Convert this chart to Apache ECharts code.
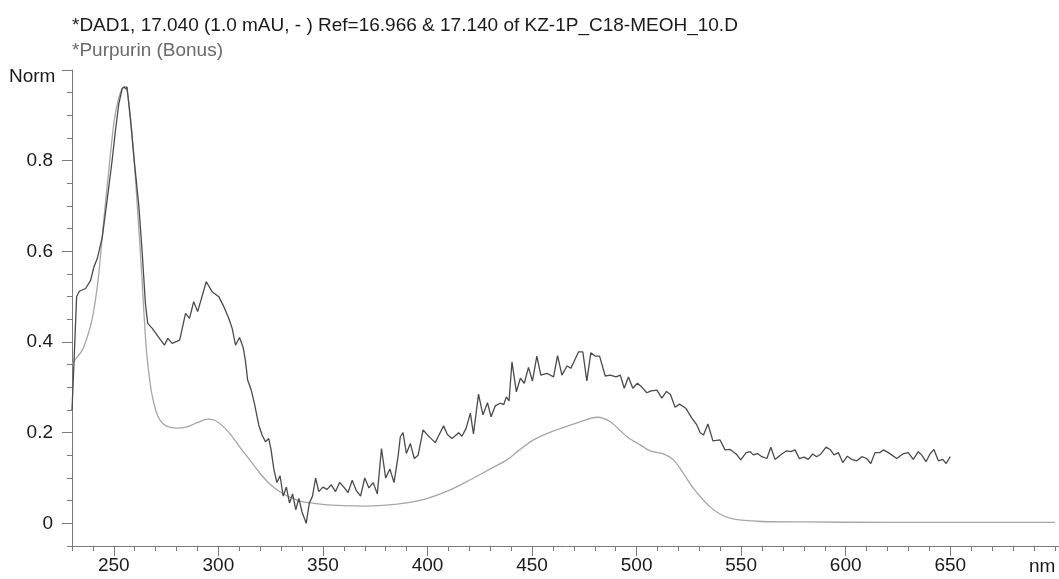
<!DOCTYPE html>
<html>
<head>
<meta charset="utf-8">
<script src="https://cdn.jsdelivr.net/npm/echarts@6/dist/echarts.min.js"></script>
<style>
html,body{margin:0;padding:0;background:#fff;}
#chart{width:1059px;height:579px;}
</style>
</head>
<body>
<div id="chart"></div>
<script>
// Sample spectrum (*DAD1, noisy)
const sampleNm = [230,231,232.2,233.5,236.5,238.9,240.5,242.1,244.5,246.8,249.2,250.8,252.4,254,255,255.8,256.3,258,259.9,262,263.6,265.1,266.2,268.4,270.7,274.2,275.8,277.9,281.5,284.3,286.2,288.2,290.1,294.2,297,300.2,302.6,305,306.6,308.2,310.1,311.8,312.9,314,315.7,317.2,319.3,320.9,322.5,324.1,325.2,326.5,328,329.5,331,332.5,334,335.5,337,338.5,340,342,343.5,345,346.5,348,350,352,354,356,358,360,362,364,366,368,370,372,374,376,378,380,382,384,386,387,388.3,389.9,391.8,393.7,395.5,397.9,400,401.5,403.7,405.5,407.7,409.5,411.7,413.3,414.9,416.5,418.5,420.5,422,424.4,426.5,428.7,430.4,432.4,434.8,436.5,437.7,439,440.4,442.5,444.4,446.3,448.3,450.2,452.3,454.2,457.1,460.3,462.2,464.3,466.7,468.6,472.2,474.3,476.2,478.1,480.2,482.3,485,487.4,490.2,492.2,494.1,496.1,498.2,500.4,502.6,504.9,507,509.7,512.1,514.3,516.2,518.4,520.5,523.5,526.4,528.8,530.4,532,534.1,536.5,539.9,542.3,544.7,547.6,549.8,552.4,554.3,555.9,557.8,559.9,562.3,564.2,566.2,569.4,571.8,573.7,575.8,577.8,580.1,582.1,584.2,586.1,588.1,590.6,592.5,594.4,596.5,598.6,600.8,602.9,605.3,607.7,610,612,614,616.4,618,620.4,624.4,627.3,629.9,632.3,634.7,636.3,638.4,640.3,642.2,644.3,646.4,648,650];
const sampleVal = [0.25,0.36,0.50,0.512,0.518,0.536,0.566,0.584,0.632,0.713,0.801,0.867,0.926,0.959,0.963,0.958,0.963,0.889,0.794,0.698,0.595,0.485,0.441,0.430,0.415,0.393,0.408,0.397,0.404,0.463,0.452,0.489,0.467,0.533,0.511,0.500,0.478,0.452,0.430,0.393,0.410,0.389,0.360,0.316,0.294,0.265,0.217,0.195,0.180,0.187,0.162,0.12,0.09,0.105,0.06,0.08,0.045,0.065,0.03,0.055,0.025,0.0,0.045,0.06,0.1,0.07,0.08,0.075,0.085,0.07,0.09,0.08,0.068,0.095,0.072,0.06,0.1,0.078,0.09,0.065,0.165,0.1,0.12,0.09,0.15,0.191,0.200,0.154,0.176,0.143,0.15,0.206,0.195,0.188,0.178,0.195,0.215,0.196,0.187,0.193,0.200,0.192,0.21,0.243,0.197,0.285,0.239,0.266,0.235,0.259,0.265,0.262,0.279,0.27,0.356,0.290,0.320,0.309,0.344,0.314,0.369,0.327,0.331,0.323,0.370,0.327,0.347,0.342,0.378,0.378,0.314,0.376,0.369,0.369,0.325,0.327,0.323,0.327,0.298,0.323,0.298,0.309,0.30,0.288,0.292,0.294,0.276,0.291,0.284,0.256,0.263,0.254,0.232,0.217,0.200,0.195,0.219,0.182,0.184,0.162,0.163,0.153,0.140,0.156,0.158,0.151,0.154,0.147,0.143,0.168,0.141,0.153,0.160,0.158,0.162,0.143,0.146,0.141,0.153,0.147,0.153,0.168,0.163,0.151,0.156,0.134,0.148,0.141,0.138,0.147,0.143,0.132,0.156,0.156,0.162,0.156,0.143,0.153,0.156,0.141,0.158,0.151,0.136,0.153,0.163,0.138,0.141,0.132,0.147];

// Library reference spectrum (*Purpurin (Bonus), smooth)
const refNm = [230,232.5,234.9,237.3,239.7,242.1,243.6,245.2,247.6,250,251.9,254,255.6,257.2,258.8,260.4,262,263.6,265.1,266.2,268,270,272,275,280,285,290,295,298,302,306,310,315,320,325,330,335,340,350,360,370,380,390,400,410,420,430,438,444,450.7,457,463.5,473,481,487.4,495.4,501.7,506.5,512.8,517.6,522.4,527.2,532,536,540,545,550,560,580,620,700];
const refVal = [0.352,0.367,0.382,0.411,0.452,0.522,0.588,0.669,0.779,0.882,0.930,0.959,0.963,0.926,0.853,0.757,0.647,0.529,0.411,0.353,0.29,0.25,0.228,0.215,0.21,0.213,0.222,0.23,0.228,0.215,0.195,0.17,0.14,0.11,0.085,0.068,0.056,0.048,0.042,0.039,0.038,0.04,0.045,0.055,0.072,0.095,0.12,0.14,0.162,0.184,0.198,0.209,0.224,0.234,0.224,0.191,0.173,0.16,0.153,0.140,0.110,0.077,0.051,0.033,0.02,0.011,0.007,0.004,0.003,0.002,0.002];

const xLabelTicks = [250,300,350,400,450,500,550,600,650];
const xMinorTicks = [230,240,250,260,270,280,290,300,310,320,330,340,350,360,370,380,390,400,410,420,430,440,450,460,470,480,490,500,510,520,530,540,550,560,570,580,590,600,610,620,630,640,650,660,670,680,690,700];
const yLabelTicks = [0,0.2,0.4,0.6,0.8];
const yMajorTicks = [0,0.2,0.4,0.6,0.8,1.0];
const yMinorTicks = [-0.05,0,0.05,0.1,0.15,0.2,0.25,0.3,0.35,0.4,0.45,0.5,0.55,0.6,0.65,0.7,0.75,0.8,0.85,0.9,0.95,1.0];
const titleLine1 = '*DAD1, 17.040 (1.0 mAU, - ) Ref=16.966 & 17.140 of KZ-1P_C18-MEOH_10.D';
const titleLine2 = '*Purpurin (Bonus)';
const xUnit = 'nm';
const yUnit = 'Norm';

const zip = (a, b) => a.map((v, i) => [v, b[i]]);
const FONT = 'Liberation Sans, Arial, sans-serif';
const FS = 19;
const AXIS_COLOR = '#7a7a7a';
const TEXT_COLOR = '#1a1a1a';
const X_MIN = 230, X_MAX = 702, Y_MIN = -0.05, Y_MAX = 1.0;

const chart = echarts.init(document.getElementById('chart'), null, {renderer: 'canvas'});
chart.setOption({
  animation: false,
  backgroundColor: '#ffffff',
  title: [
    {text: titleLine1, left: 72, top: 16, padding: 0, textStyle: {fontFamily: FONT, fontSize: FS, fontWeight: 'normal', color: TEXT_COLOR}},
    {text: titleLine2, left: 72, top: 41, padding: 0, textStyle: {fontFamily: FONT, fontSize: FS, fontWeight: 'normal', color: '#6a6a6a'}},
    {text: xUnit, left: 1029, top: 557, padding: 0, textStyle: {fontFamily: FONT, fontSize: FS, fontWeight: 'normal', color: TEXT_COLOR}},
    {text: yUnit, left: 9, top: 67, padding: 0, textStyle: {fontFamily: FONT, fontSize: FS, fontWeight: 'normal', color: TEXT_COLOR}}
  ],
  grid: {left: 72, right: 0, top: 70, bottom: 33, containLabel: false},
  xAxis: [
    {
      type: 'value', min: X_MIN, max: X_MAX, position: 'bottom',
      axisLine: {show: true, onZero: false, lineStyle: {color: AXIS_COLOR, width: 1}},
      axisTick: {show: true, length: 10, lineStyle: {color: AXIS_COLOR}, customValues: xLabelTicks},
      axisLabel: {show: true, customValues: xLabelTicks, margin: 10, fontFamily: FONT, fontSize: FS, color: TEXT_COLOR},
      splitLine: {show: false}
    },
    {
      type: 'value', min: X_MIN, max: X_MAX, position: 'bottom', offset: 0,
      axisLine: {show: false, onZero: false},
      axisTick: {show: true, length: 5, lineStyle: {color: AXIS_COLOR}, customValues: xMinorTicks},
      axisLabel: {show: false},
      splitLine: {show: false}
    }
  ],
  yAxis: [
    {
      type: 'value', min: Y_MIN, max: Y_MAX, position: 'left',
      axisLine: {show: true, onZero: false, lineStyle: {color: AXIS_COLOR, width: 1}},
      axisTick: {show: true, length: 10, lineStyle: {color: AXIS_COLOR}, customValues: yMajorTicks},
      axisLabel: {
        show: true, customValues: yLabelTicks, margin: 19, fontFamily: FONT, fontSize: FS, color: TEXT_COLOR,
        formatter: v => (v === 0 ? '0' : v.toFixed(1))
      },
      splitLine: {show: false}
    },
    {
      type: 'value', min: Y_MIN, max: Y_MAX, position: 'left', offset: 0,
      axisLine: {show: false, onZero: false},
      axisTick: {show: true, length: 5, lineStyle: {color: AXIS_COLOR}, customValues: yMinorTicks},
      axisLabel: {show: false},
      splitLine: {show: false}
    }
  ],
  series: [
    {
      name: titleLine2, type: 'line', xAxisIndex: 0, yAxisIndex: 0,
      data: zip(refNm, refVal), showSymbol: false, symbol: 'none', smooth: 0.3,
      lineStyle: {color: '#a6a6a6', width: 1.3}
    },
    {
      name: titleLine1, type: 'line', xAxisIndex: 0, yAxisIndex: 0,
      data: zip(sampleNm, sampleVal), showSymbol: false, symbol: 'none',
      lineStyle: {color: '#4a4a4a', width: 1.3}
    }
  ]
});
</script>
</body>
</html>
